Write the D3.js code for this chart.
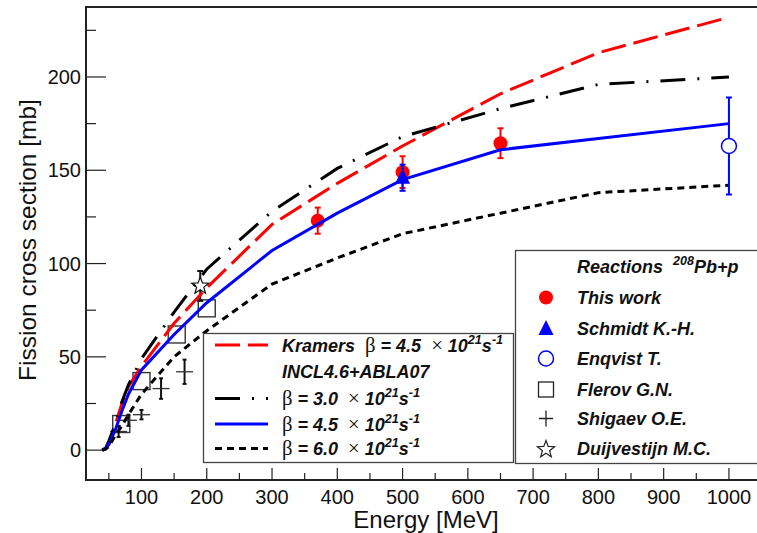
<!DOCTYPE html>
<html>
<head>
<meta charset="utf-8">
<script src="https://cdn.jsdelivr.net/npm/d3@7/dist/d3.min.js"></script>
<style>
  body { margin: 0; background: #fff; }
  svg { display: block; }
</style>
</head>
<body>
<svg id="chart" width="757" height="533"></svg>
<script>
// Model calculations for p + 208Pb fission cross section (mb) vs proton energy (MeV)
const modelEnergy   = [40, 45, 50, 60, 70, 80, 100, 150, 200, 300, 400, 500, 650, 800, 1000];
const kramersBeta45 = [0, 1, 3, 14, 25, 34, 45, 68, 87, 121, 143, 163, 191, 213, 232];
const inclBeta30    = [0, 1, 5, 14, 26, 35, 49, 74, 97, 128, 151, 168, 183, 196, 200];
const inclBeta45    = [0, 1, 3, 11, 21, 30, 43, 62, 79, 107, 127, 145, 161, 167, 175];
const inclBeta60    = [0, 0.5, 2, 8, 13, 19, 30, 50, 64, 89, 103, 116, 127, 138, 142];

// Experimental data
const thisWorkEnergy = [370, 500, 650];
const thisWorkSigma  = [123, 149, 164.5];
const thisWorkError  = [7, 8.5, 8];

const schmidtEnergy = [500];
const schmidtSigma  = [146];
const schmidtError  = [7];

const enqvistEnergy = [1000];
const enqvistSigma  = [163];
const enqvistError  = [26];

const flerovEnergy = [69, 100, 154, 200];
const flerovSigma  = [14, 37, 62, 76];

const shigaevEnergy = [65, 80, 100, 130, 166];
const shigaevSigma  = [10, 16, 19, 33, 42];
const shigaevError  = [3, 3, 2.5, 5.5, 6.5];

const duijvestijnEnergy = [190];
const duijvestijnSigma  = [88];
const duijvestijnError  = [8];

// Axis ticks
const xMajorTicks = [100, 200, 300, 400, 500, 600, 700, 800, 900, 1000];
const xMinorTicks = [50, 150, 250, 350, 450, 550, 650, 750, 850, 950];
const yMajorTicks = [0, 50, 100, 150, 200];
const yMinorTicks = [25, 75, 125, 175, 225];

const FONT = "'Liberation Sans', Arial, Helvetica, sans-serif";
const SYM  = "'Liberation Serif', 'DejaVu Serif', serif";

const svg = d3.select("#chart");
const frame = { left: 86, right: 757, top: 7, bottom: 480 };

const x = d3.scaleLinear().domain([15, 1043]).range([frame.left, frame.right]);
const y = d3.scaleLinear().domain([-16, 237.5]).range([frame.bottom, frame.top]);

// ---- frame and axes ----
const axes = svg.append("g").attr("stroke", "#222").attr("fill", "none");
axes.append("path")
  .attr("d", `M${frame.right},${frame.top}H${frame.left}V${frame.bottom}H${frame.right}`)
  .attr("stroke-width", 2);

axes.selectAll(".xmaj").data(xMajorTicks).join("line")
  .attr("x1", d => x(d)).attr("x2", d => x(d))
  .attr("y1", frame.bottom).attr("y2", frame.bottom - 12).attr("stroke-width", 1.2);
axes.selectAll(".xmin").data(xMinorTicks).join("line")
  .attr("x1", d => x(d)).attr("x2", d => x(d))
  .attr("y1", frame.bottom).attr("y2", frame.bottom - 7).attr("stroke-width", 1.2);
axes.selectAll(".ymaj").data(yMajorTicks).join("line")
  .attr("y1", d => y(d)).attr("y2", d => y(d))
  .attr("x1", frame.left).attr("x2", frame.left + 20).attr("stroke-width", 1.2);
axes.selectAll(".ymin").data(yMinorTicks).join("line")
  .attr("y1", d => y(d)).attr("y2", d => y(d))
  .attr("x1", frame.left).attr("x2", frame.left + 10).attr("stroke-width", 1.2);

const labels = svg.append("g").attr("font-family", FONT).attr("fill", "#111");
labels.selectAll(".xl").data(xMajorTicks).join("text")
  .attr("x", d => x(d)).attr("y", 504).attr("text-anchor", "middle")
  .attr("font-size", 20).text(d => d);
labels.selectAll(".yl").data(yMajorTicks).join("text")
  .attr("x", 81).attr("y", d => y(d) + 7).attr("text-anchor", "end")
  .attr("font-size", 20).text(d => d);
labels.append("text")
  .attr("x", 426).attr("y", 528).attr("text-anchor", "middle")
  .attr("font-size", 24).text("Energy [MeV]");
labels.append("text")
  .attr("transform", "translate(36,240) rotate(-90)").attr("text-anchor", "middle")
  .attr("font-size", 24.5).text("Fission cross section [mb]");

// ---- marker helpers ----
function starPath(cx, cy, R, r) {
  const pts = [];
  for (let i = 0; i < 10; i++) {
    const a = -Math.PI / 2 + i * Math.PI / 5;
    const rad = i % 2 === 0 ? R : r;
    pts.push([cx + rad * Math.cos(a), cy + rad * Math.sin(a)]);
  }
  return "M" + pts.map(p => p.join(",")).join("L") + "Z";
}
function errorBars(g, E, S, Err, color, cap) {
  E.forEach((e, i) => {
    const xx = x(e), y0 = y(S[i] - Err[i]), y1 = y(S[i] + Err[i]);
    g.append("line").attr("x1", xx).attr("x2", xx).attr("y1", y0).attr("y2", y1)
      .attr("stroke", color).attr("stroke-width", 2);
    [y0, y1].forEach(yy => g.append("line")
      .attr("x1", xx - cap).attr("x2", xx + cap).attr("y1", yy).attr("y2", yy)
      .attr("stroke", color).attr("stroke-width", 2));
  });
}
const triPath = (cx, cy, s) => `M${cx},${cy - s * 0.6}L${cx + s / 2},${cy + s * 0.4}L${cx - s / 2},${cy + s * 0.4}Z`;

// ---- experimental points ----
const pts = svg.append("g");

// Flerov G.N. (open squares)
pts.selectAll(".flerov").data(flerovEnergy).join("rect")
  .attr("x", (d) => x(d) - 8.5).attr("y", (d, i) => y(flerovSigma[i]) - 8.5)
  .attr("width", 17).attr("height", 17)
  .attr("fill", "none").attr("stroke", "#333").attr("stroke-width", 1.4);

// Shigaev O.E. (crosses with error bars)
errorBars(pts, shigaevEnergy, shigaevSigma, shigaevError, "#111", 2);
pts.selectAll(".shig").data(shigaevEnergy).join("line")
  .attr("x1", d => x(d) - 8.5).attr("x2", d => x(d) + 8.5)
  .attr("y1", (d, i) => y(shigaevSigma[i])).attr("y2", (d, i) => y(shigaevSigma[i]))
  .attr("stroke", "#333").attr("stroke-width", 1.3);

// Duijvestijn M.C. (open star)
errorBars(pts, duijvestijnEnergy, duijvestijnSigma, duijvestijnError, "#111", 3);
pts.selectAll(".duij").data(duijvestijnEnergy).join("path")
  .attr("d", (d, i) => starPath(x(d), y(duijvestijnSigma[i]), 9, 3.8))
  .attr("fill", "#fff").attr("stroke", "#111").attr("stroke-width", 1.2);

// This work (red filled circles)
errorBars(pts, thisWorkEnergy, thisWorkSigma, thisWorkError, "#f00", 3);
pts.selectAll(".tw").data(thisWorkEnergy).join("circle")
  .attr("cx", d => x(d)).attr("cy", (d, i) => y(thisWorkSigma[i])).attr("r", 7)
  .attr("fill", "#f00");

// ---- model curves ----
const curve = (vals) => d3.line()
  .x((d, i) => x(modelEnergy[i])).y(d => y(d))(vals);

const curves = [
  { vals: kramersBeta45, color: "#f00", dash: "25,8" },
  { vals: inclBeta30,    color: "#000", dash: "25,12,2,12" },
  { vals: inclBeta45,    color: "#00f", dash: null },
  { vals: inclBeta60,    color: "#000", dash: "7,5" }
];
const cg = svg.append("g").attr("fill", "none");
curves.forEach(c => {
  cg.append("path").attr("d", curve(c.vals))
    .attr("stroke", c.color).attr("stroke-width", 3)
    .attr("stroke-dasharray", c.dash);
});

// Schmidt K.-H. (blue triangle) on top of the curves
errorBars(svg, schmidtEnergy, schmidtSigma, schmidtError, "#00f", 3);
svg.selectAll(".sch").data(schmidtEnergy).join("path")
  .attr("d", (d, i) => triPath(x(d), y(schmidtSigma[i]), 15))
  .attr("fill", "#00f");

// Enqvist T. (open blue circle)
errorBars(svg, enqvistEnergy, enqvistSigma, enqvistError, "#00f", 3);
svg.selectAll(".enq").data(enqvistEnergy).join("circle")
  .attr("cx", d => x(d)).attr("cy", (d, i) => y(enqvistSigma[i])).attr("r", 7.5)
  .attr("fill", "#fff").attr("stroke", "#00f").attr("stroke-width", 1.5);

// ---- rich text helper (bold italic with symbols and superscripts) ----
function rich(g, tx, ty, parts, size) {
  const t = g.append("text").attr("x", tx).attr("y", ty)
    .attr("font-family", FONT).attr("font-size", size)
    .attr("font-weight", "bold").attr("font-style", "italic").attr("fill", "#111")
    .style("white-space", "pre");
  let shift = 0;
  parts.forEach(([str, kind]) => {
    const s = t.append("tspan").text(str);
    const want = kind === "sup" ? -8 : 0;
    if (want !== shift) { s.attr("dy", want - shift); shift = want; }
    if (kind === "sup") s.attr("font-size", size * 0.7);
    if (kind === "sym") s.attr("font-family", SYM).attr("font-weight", "normal")
      .attr("font-style", "normal").attr("font-size", size * 1.15);
  });
  return t;
}

// ---- legend: models ----
const lg1 = svg.append("g");
lg1.append("rect").attr("x", 203.5).attr("y", 333.5).attr("width", 310).attr("height", 129)
  .attr("fill", "#fff").attr("stroke", "#444").attr("stroke-width", 1.3);
const lgRows = [345, 371.5, 398.5, 424, 448.5];
const betaParts = (v) => [["β", "sym"], [" = " + v + "  ", "bi"], ["×", "sym"], [" 10", "bi"], ["21", "sup"], ["s", "bi"], ["-1", "sup"]];
const modelLegend = [
  { row: 0, c: curves[0], parts: [["Kramers  ", "bi"]].concat(betaParts("4.5")) },
  { row: 1, c: null,      parts: [["INCL4.6+ABLA07", "bi"]] },
  { row: 2, c: curves[1], parts: betaParts("3.0") },
  { row: 3, c: curves[2], parts: betaParts("4.5") },
  { row: 4, c: curves[3], parts: betaParts("6.0") }
];
modelLegend.forEach(m => {
  const yy = lgRows[m.row];
  if (m.c) lg1.append("line").attr("x1", 215).attr("x2", 268).attr("y1", yy).attr("y2", yy)
    .attr("stroke", m.c.color).attr("stroke-width", 3).attr("stroke-dasharray", m.c.dash);
  rich(lg1, 282, yy + 6.5, m.parts, 18);
});

// ---- legend: experiments ----
const lg2 = svg.append("g");
lg2.append("rect").attr("x", 515.5).attr("y", 250.5).attr("width", 260).attr("height", 213)
  .attr("fill", "#fff").attr("stroke", "#444").attr("stroke-width", 1.3);
rich(lg2, 577, 273, [["Reactions  ", "bi"], ["208", "sup"], ["Pb+p", "bi"]], 18);
const expRows = [297.5, 328, 358.5, 389.5, 418.5, 448.5];
const mx = 546;
const expNames = ["This work", "Schmidt K.-H.", "Enqvist T.", "Flerov G.N.", "Shigaev O.E.", "Duijvestijn M.C."];
expNames.forEach((n, i) => rich(lg2, 577, expRows[i] + 6.5, [[n, "bi"]], 18));
lg2.append("circle").attr("cx", mx).attr("cy", expRows[0]).attr("r", 7).attr("fill", "#f00");
lg2.append("path").attr("d", triPath(mx, expRows[1] + 1, 15)).attr("fill", "#00f");
lg2.append("circle").attr("cx", mx).attr("cy", expRows[2]).attr("r", 7.5)
  .attr("fill", "none").attr("stroke", "#00f").attr("stroke-width", 1.5);
lg2.append("rect").attr("x", mx - 7.5).attr("y", expRows[3] - 7.5).attr("width", 15).attr("height", 15)
  .attr("fill", "none").attr("stroke", "#222").attr("stroke-width", 1.3);
lg2.append("path").attr("d", `M${mx - 7},${expRows[4]}H${mx + 7}M${mx},${expRows[4] - 8}V${expRows[4] + 8}`)
  .attr("stroke", "#222").attr("stroke-width", 1.3);
lg2.append("path").attr("d", starPath(mx, expRows[5] + 1, 9, 3.8))
  .attr("fill", "none").attr("stroke", "#222").attr("stroke-width", 1.2);
</script>
</body>
</html>
